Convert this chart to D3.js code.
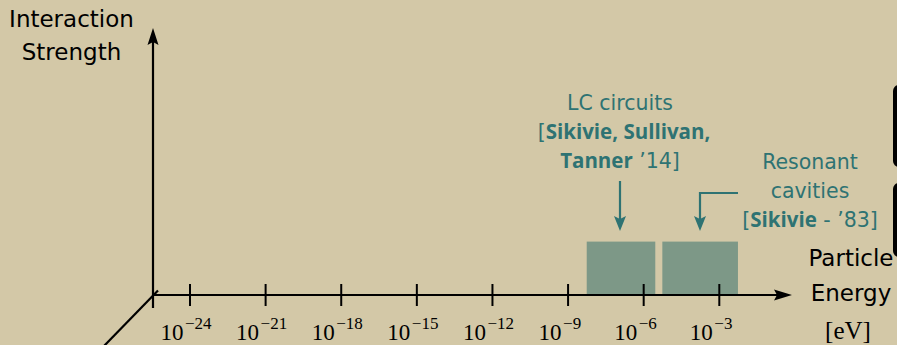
<!DOCTYPE html>
<html>
<head>
<meta charset="utf-8">
<script src="https://cdn.jsdelivr.net/npm/d3@7"></script>
<style>
  html, body { margin: 0; padding: 0; background: #d3c8a7; }
  svg { display: block; }
</style>
</head>
<body>
<svg id="chart" width="897" height="345"></svg>
<script>
// Energy axis ticks (log10 of eV)
const tickExponents = [-24, -21, -18, -15, -12, -9, -6, -3];
// Experiment coverage ranges (log10 eV) and relative strength
const experiments = ["LC circuits", "Resonant cavities"];
const rangeLow = [-8.26, -5.26];
const rangeHigh = [-5.54, -2.26];
const strength = [0.2, 0.2];

const svg = d3.select("#chart");
const teal = "#2e7373";
const barFill = "#7d9887";
const sans = "'DejaVu Sans', sans-serif";
const sansBold = "'Open Sans', 'DejaVu Sans', sans-serif";
const serif = "'Liberation Serif', 'DejaVu Serif', serif";

const originX = 153, originY = 295;
const x = d3.scaleLinear().domain([-24, -3]).range([190, 719.3]);
const y = d3.scaleLinear().domain([0, 1]).range([originY, 28]);

// Coverage bars
svg.append("g").selectAll("rect")
  .data(experiments.map((d, i) => ({ name: d, lo: rangeLow[i], hi: rangeHigh[i], s: strength[i] })))
  .join("rect")
  .attr("x", d => x(d.lo))
  .attr("width", d => x(d.hi) - x(d.lo))
  .attr("y", d => y(d.s))
  .attr("height", d => y(0) - y(d.s))
  .attr("fill", barFill);

// Axes lines
const axisG = svg.append("g").attr("stroke", "#000").attr("stroke-width", 2.2).attr("fill", "none");
axisG.append("line").attr("x1", originX).attr("y1", originY).attr("x2", 778).attr("y2", originY);
axisG.append("line").attr("x1", originX).attr("y1", 308).attr("x2", originX).attr("y2", 40);
axisG.append("line").attr("x1", 158).attr("y1", 290.5).attr("x2", 104).attr("y2", 346);

// Arrow heads
svg.append("path")
  .attr("d", `M792,${originY} L774,${originY - 5.5} L777,${originY} L774,${originY + 5.5} Z`)
  .attr("fill", "#000");
svg.append("path")
  .attr("d", `M${originX},28 L${originX - 5.5},45 L${originX},42 L${originX + 5.5},45 Z`)
  .attr("fill", "#000");

// Tick marks on the energy axis
const ticks = svg.append("g").attr("stroke", "#000").attr("stroke-width", 2);
ticks.selectAll("line")
  .data(tickExponents)
  .join("line")
  .attr("x1", d => x(d)).attr("x2", d => x(d))
  .attr("y1", originY - 11).attr("y2", originY + 11);

// Tick labels 10^n
const tl = svg.append("g").attr("font-family", serif).attr("fill", "#000");
tickExponents.forEach(e => {
  const t = tl.append("text")
    .attr("x", x(e) - 29.5)
    .attr("y", 340)
    .attr("font-size", 23);
  t.append("tspan").text("10");
  t.append("tspan").attr("dx", 1.5).attr("dy", -11).attr("font-size", 17).text("\u2212" + Math.abs(e));
});

// Axis titles
const yTitle = svg.append("text").attr("font-family", sans).attr("font-size", 23)
  .attr("text-anchor", "middle").attr("fill", "#000");
yTitle.append("tspan").attr("x", 71.5).attr("y", 26.5).text("Interaction");
yTitle.append("tspan").attr("x", 71.5).attr("y", 60).text("Strength");

const xTitle = svg.append("text").attr("font-family", sans).attr("font-size", 23)
  .attr("text-anchor", "middle").attr("fill", "#000");
xTitle.append("tspan").attr("x", 851).attr("y", 266).text("Particle");
xTitle.append("tspan").attr("x", 851).attr("y", 301).text("Energy");
svg.append("text").attr("font-family", serif).attr("font-size", 25)
  .attr("text-anchor", "middle").attr("x", 848).attr("y", 339).text("[eV]");

// Black panels at the right edge
svg.append("rect").attr("x", 893).attr("y", 85).attr("width", 20).attr("height", 82).attr("rx", 6).attr("fill", "#000");
svg.append("rect").attr("x", 893).attr("y", 183).attr("width", 20).attr("height", 74).attr("rx", 6).attr("fill", "#000");

// Annotations
const ann = svg.append("g").attr("font-family", sans).attr("font-size", 20.5)
  .attr("fill", teal).attr("text-anchor", "middle");
const bold = s => s.attr("font-family", sansBold).attr("font-weight", "bold").attr("font-size", 20.5);
const a1 = ann.append("text");
a1.append("tspan").attr("x", 620).attr("y", 110).text("LC circuits");
const l2 = a1.append("tspan").attr("x", 624).attr("y", 139);
l2.append("tspan").text("[");
bold(l2.append("tspan")).text("Sikivie, Sullivan,");
const l3 = a1.append("tspan").attr("x", 620).attr("y", 168);
bold(l3.append("tspan")).text("Tanner");
l3.append("tspan").text(" \u201914]");

const a2 = ann.append("text");
a2.append("tspan").attr("x", 810).attr("y", 169).text("Resonant");
a2.append("tspan").attr("x", 810).attr("y", 198).text("cavities");
const m3 = a2.append("tspan").attr("x", 810).attr("y", 227);
m3.append("tspan").text("[");
bold(m3.append("tspan")).text("Sikivie");
m3.append("tspan").text(" - \u201983]");

// Annotation arrows
const arr = svg.append("g").attr("stroke", teal).attr("stroke-width", 2.2).attr("fill", "none");
arr.append("line").attr("x1", 620).attr("y1", 181).attr("x2", 620).attr("y2", 220);
arr.append("path").attr("d", "M738,193 L700,193 L700,220");
const heads = svg.append("g").attr("fill", teal);
[620, 700].forEach(cx => {
  heads.append("path").attr("d", `M${cx},231 L${cx - 6},216 L${cx},219 L${cx + 6},216 Z`);
});
</script>
</body>
</html>
